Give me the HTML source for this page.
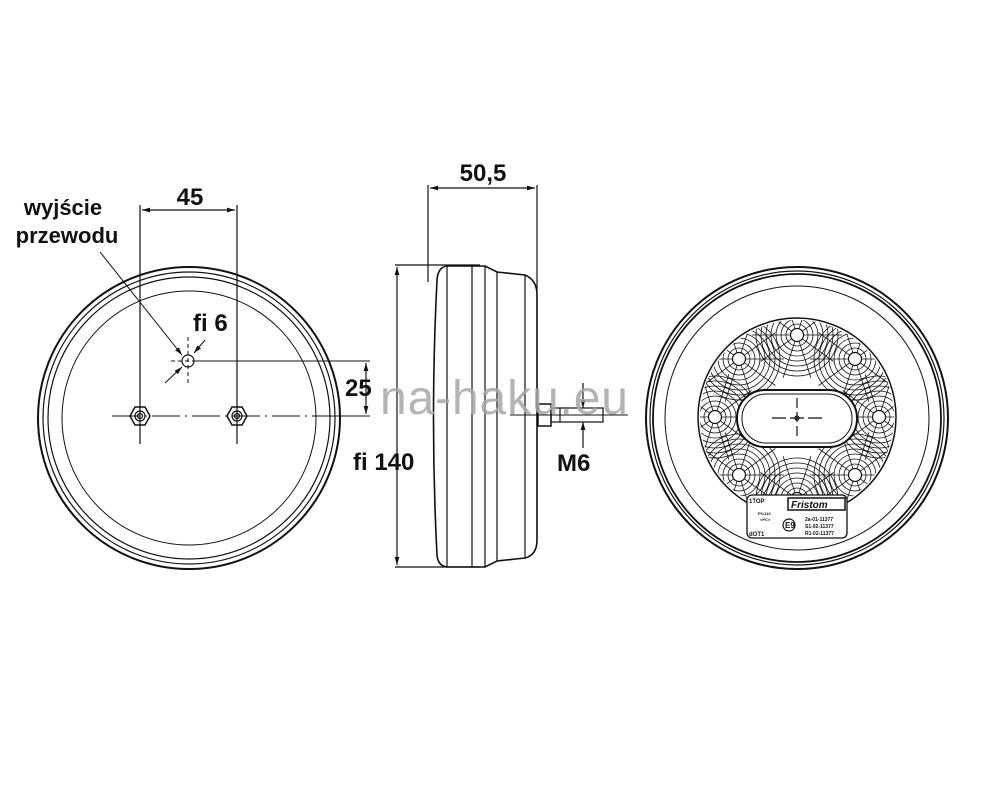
<!DOCTYPE html>
<html><head><meta charset="utf-8"><style>
html,body{margin:0;padding:0;background:#fff;}
svg{display:block}
text{font-family:"Liberation Sans","DejaVu Sans",sans-serif;font-weight:bold;fill:#111}
</style></head><body>
<svg id="s" width="1000" height="792" viewBox="0 0 1000 792" xmlns="http://www.w3.org/2000/svg">
<defs>
<marker id="a" viewBox="0 0 10 10" refX="10" refY="5" markerWidth="8" markerHeight="8" orient="auto-start-reverse" markerUnits="userSpaceOnUse"><path d="M0,2 L10,5 L0,8 z" fill="#111"/></marker>
<clipPath id="disk"><circle cx="797" cy="417" r="97"/></clipPath>
</defs>
<g fill="none" stroke="#111" stroke-width="1.2">
<circle cx="189" cy="418" r="151" stroke-width="2"/>
<circle cx="189" cy="418" r="146"/>
<circle cx="189" cy="418" r="141"/>
<circle cx="189" cy="418" r="127" stroke-width="1"/>
<line x1="140" y1="205" x2="140" y2="444"/>
<line x1="237" y1="205" x2="237" y2="444"/>
<line x1="142" y1="210" x2="235" y2="210" marker-start="url(#a)" marker-end="url(#a)"/>
<line x1="112" y1="416" x2="340" y2="416" stroke-dasharray="28,5,2,5" stroke-width="1"/>
<polygon points="130,416 135,407 145,407 150,416 145,425 135,425" stroke-width="1.5"/>
<circle cx="140" cy="416" r="5"/><circle cx="140" cy="416" r="2.5"/>
<polygon points="227,416 232,407 242,407 247,416 242,425 232,425" stroke-width="1.5"/>
<circle cx="237" cy="416" r="5"/><circle cx="237" cy="416" r="2.5"/>
<circle cx="188" cy="361" r="6"/>
<line x1="188" y1="337" x2="188" y2="385" stroke-dasharray="4,3" stroke-width="1"/>
<line x1="171" y1="361" x2="196" y2="361" stroke-dasharray="4,3" stroke-width="1"/>
<line x1="196" y1="361" x2="370" y2="361" stroke-width="1"/>
<line x1="340" y1="416" x2="370" y2="416" stroke-width="1"/>
<line x1="366" y1="363" x2="366" y2="414" marker-start="url(#a)" marker-end="url(#a)"/>
<line x1="100" y1="252" x2="182" y2="355" marker-end="url(#a)" stroke-width="1"/>
<line x1="205" y1="340" x2="194" y2="353" marker-end="url(#a)" stroke-width="1"/>
<line x1="165" y1="383" x2="182" y2="367" marker-end="url(#a)" stroke-width="1"/>
<line x1="428" y1="185" x2="428" y2="282"/>
<line x1="537" y1="185" x2="537" y2="290"/>
<line x1="430" y1="188" x2="535" y2="188" marker-start="url(#a)" marker-end="url(#a)"/>
<line x1="395" y1="265" x2="480" y2="265"/>
<line x1="395" y1="567" x2="480" y2="567"/>
<line x1="397" y1="267" x2="397" y2="565" marker-start="url(#a)" marker-end="url(#a)"/>
<path d="M447,266 L485,266 L497,272 L525,275 Q537,280 537,295 L537,540 Q537,555 525,558 L497,561 L485,567 L447,567 Q438,566 437,555 Q430,420 437,280 Q438,267 447,266 Z" stroke-width="1.6"/>
<line x1="447" y1="266" x2="447" y2="567"/>
<line x1="472" y1="266" x2="472" y2="567"/>
<line x1="485" y1="266" x2="485" y2="567"/>
<line x1="497" y1="272" x2="497" y2="561"/>
<line x1="525" y1="275" x2="525" y2="558"/>
<rect x="538" y="404" width="13" height="22" stroke-width="1.5"/>
<rect x="551" y="408" width="52" height="14"/>
<line x1="560" y1="408" x2="560" y2="422"/>
<line x1="510" y1="415" x2="628" y2="415" stroke-width="1"/>
<line x1="583" y1="383" x2="583" y2="408" marker-end="url(#a)"/>
<line x1="583" y1="448" x2="583" y2="422" marker-end="url(#a)"/>
<circle cx="797" cy="418" r="151" stroke-width="2"/>
<circle cx="797" cy="418" r="147"/>
<circle cx="797" cy="418" r="144" stroke-width="1.8"/>
<circle cx="797" cy="418" r="132" stroke-width="1"/>
<circle cx="797" cy="417" r="99" stroke-width="1.5"/>
<g id="pat" clip-path="url(#disk)" stroke-width="0.8"></g>
<rect x="737" y="390" width="120" height="57" rx="28" fill="#fff" stroke-width="2"/>
<rect x="742" y="394" width="110" height="49" rx="24" stroke-width="1"/>
<line x1="797" y1="398" x2="797" y2="440" stroke-dasharray="10,4"/>
<line x1="772" y1="418" x2="822" y2="418" stroke-dasharray="14,4"/>
<circle cx="797" cy="418" r="2"/>
<rect x="747" y="495" width="100" height="43" rx="5" fill="#fff" stroke-width="1.3"/>
<rect x="788" y="498" width="57" height="12" fill="#fff" stroke-width="1.5"/>
<circle cx="789" cy="525" r="6"/>
</g>
<text x="63" y="215" font-size="22" text-anchor="middle">wyjście</text>
<text x="67" y="243" font-size="22" text-anchor="middle">przewodu</text>
<text x="190" y="205" font-size="24" text-anchor="middle">45</text>
<text x="193" y="331" font-size="24">fi 6</text>
<text x="345" y="396" font-size="24">25</text>
<text x="353" y="470" font-size="24">fi 140</text>
<text x="483" y="181" font-size="24" text-anchor="middle">50,5</text>
<text x="557" y="471" font-size="24">M6</text>
<text x="504" y="414" font-size="48" text-anchor="middle" textLength="248" style="font-weight:normal;fill:#a8a8a8;opacity:0.85">na-haku.eu</text>
<g style="font-weight:normal">
<text x="749" y="503" font-size="6">1TOP</text>
<text x="758" y="515" font-size="4">P%110</text>
<text x="760" y="521" font-size="4">&lt;PC&gt;</text>
<text x="749" y="536" font-size="6">dOT1</text>
<text x="791" y="508" font-size="10" style="font-style:italic;font-weight:bold">Fristom</text>
<text x="785" y="528" font-size="8">E9</text>
<text x="805" y="521" font-size="5">2a-01-11377</text>
<text x="805" y="528" font-size="5">S1-02-11377</text>
<text x="805" y="535" font-size="5">R1-02-11377</text>
</g>
</svg>
<script>
var g=document.getElementById('pat'),h='';
var cx=797,cy=417;
for(var k=0;k<8;k++){var an=k*Math.PI/4,lx=cx+82*Math.cos(an),ly=cy+82*Math.sin(an);
for(var r=11;r<=43;r+=5)h+='<circle cx="'+lx.toFixed(1)+'" cy="'+ly.toFixed(1)+'" r="'+r+'"/>';
for(var j=0;j<10;j++){var b=j*Math.PI/5;h+='<line x1="'+(lx+7*Math.cos(b)).toFixed(1)+'" y1="'+(ly+7*Math.sin(b)).toFixed(1)+'" x2="'+(lx+45*Math.cos(b)).toFixed(1)+'" y2="'+(ly+45*Math.sin(b)).toFixed(1)+'"/>';}
}
for(var k=0;k<8;k++){var an=k*Math.PI/4,lx=cx+82*Math.cos(an),ly=cy+82*Math.sin(an);
h+='<circle cx="'+lx.toFixed(1)+'" cy="'+ly.toFixed(1)+'" r="6.5" fill="#fff" stroke-width="1.2"/>';}
g.innerHTML=h;
</script>
</body></html>
